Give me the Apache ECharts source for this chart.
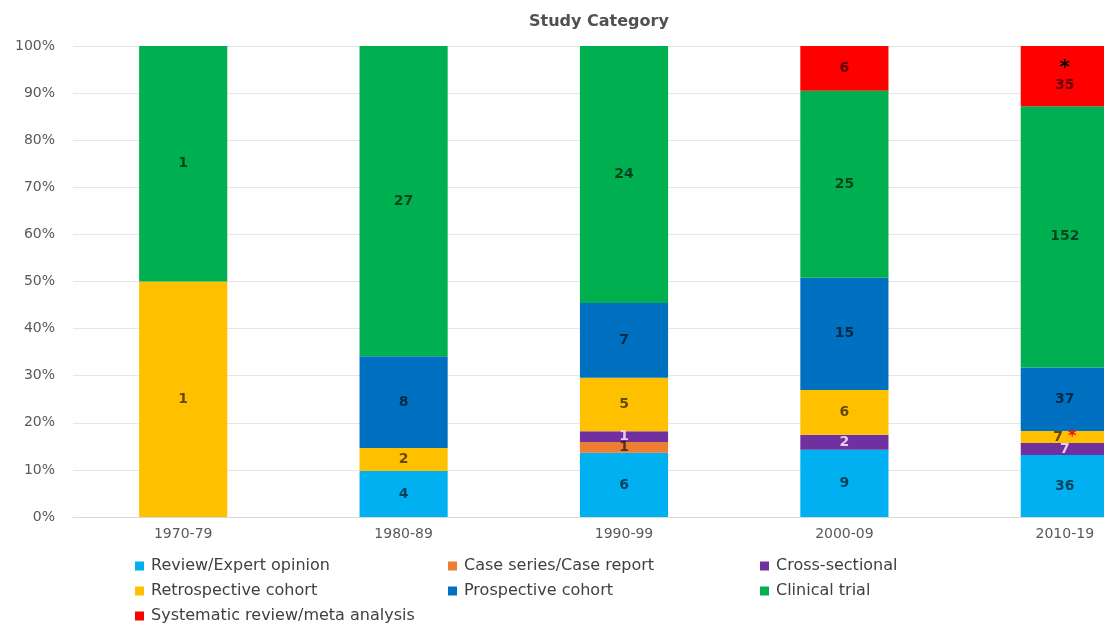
<!DOCTYPE html>
<html><head><meta charset="utf-8">
<script src="https://cdn.jsdelivr.net/npm/echarts@6/dist/echarts.min.js"></script>
<style>html,body{margin:0;padding:0;background:#fff}#c{width:1104px;height:624px}</style>
</head><body><div id="c"></div>
<script>
const categories = ['1970-79', '1980-89', '1990-99', '2000-09', '2010-19'];
const seriesNames = ['Review/Expert opinion', 'Case series/Case report', 'Cross-sectional', 'Retrospective cohort', 'Prospective cohort', 'Clinical trial', 'Systematic review/meta analysis'];
const review = [0, 4, 6, 9, 36];
const caseSeries = [0, 0, 1, 0, 0];
const crossSectional = [0, 0, 1, 2, 7];
const retrospective = [1, 2, 5, 6, 7];
const prospective = [0, 8, 7, 15, 37];
const clinical = [1, 27, 24, 25, 152];
const systematic = [0, 0, 0, 6, 35];
const yTicks = ['0%', '10%', '20%', '30%', '40%', '50%', '60%', '70%', '80%', '90%', '100%'];
const colors = ['#00B0F0', '#ED7D31', '#7030A0', '#FFC000', '#0070C0', '#00B050', '#FF0000'];

const all = [review, caseSeries, crossSectional, retrospective, prospective, clinical, systematic];
const totals = categories.map((_, i) => all.reduce((s, a) => s + a[i], 0));

const font = 'DejaVu Sans, sans-serif';
const series = all.map((arr, k) => ({
  name: seriesNames[k],
  type: 'bar',
  stack: 'total',
  barWidth: '40%',
  itemStyle: { color: colors[k] },
  data: arr.map((v, i) => ({ value: v / totals[i] * 100, raw: v, idx: i })),
  label: {
    show: true,
    position: 'inside',
    fontFamily: font,
    fontSize: 14,
    fontWeight: 'bold',
    color: k === 2 ? 'rgba(255,230,255,0.85)' : 'rgba(0,0,0,0.62)',
    formatter: p => {
      const v = p.data.raw;
      if (!v) return '';
      if (k === 6 && p.data.idx === 4) return '{star|*}\n' + v;
      if (k === 3 && p.data.idx === 4) return v + ' {red|*}';
      return String(v);
    },
    rich: {
      star: { color: '#000', fontSize: 20, fontWeight: 'bold', lineHeight: 18 },
      red: { color: '#FF0000', fontSize: 16, fontWeight: 'bold' }
    },
    lineHeight: 17
  }
}));

const legendPos = [[130, 553], [443, 553], [755, 553], [130, 578], [443, 578], [755, 578], [130, 603]];
const legends = seriesNames.map((n, k) => ({
  data: [n],
  left: legendPos[k][0],
  top: legendPos[k][1],
  itemWidth: 9,
  itemHeight: 9,
  itemGap: 4,
  icon: 'rect',
  selectedMode: false,
  textStyle: { fontFamily: font, fontSize: 16, color: '#404040', padding: [0, 0, 0, 2] }
}));

const chart = echarts.init(document.getElementById('c'));
chart.setOption({
  animation: false,
  title: { text: 'Study Category', left: 524, top: 9, textStyle: { fontFamily: font, fontSize: 16, fontWeight: 'bold', color: '#505050' } },
  legend: legends,
  grid: { left: 73, top: 46, width: 1102, height: 471, containLabel: false, outerBoundsMode: 'none' },
  xAxis: {
    type: 'category',
    data: categories,
    axisLine: { lineStyle: { color: '#d9d9d9' } },
    axisTick: { show: false },
    axisLabel: { fontFamily: font, fontSize: 14, color: '#595959', margin: 10 }
  },
  yAxis: {
    type: 'value',
    min: 0, max: 100, interval: 10,
    axisLine: { show: false },
    axisTick: { show: false },
    splitLine: { lineStyle: { color: '#e6e6e6' } },
    axisLabel: { fontFamily: font, fontSize: 14, color: '#595959', margin: 18, formatter: v => yTicks[Math.round(v / 10)] }
  },
  series: series
});
</script></body></html>
